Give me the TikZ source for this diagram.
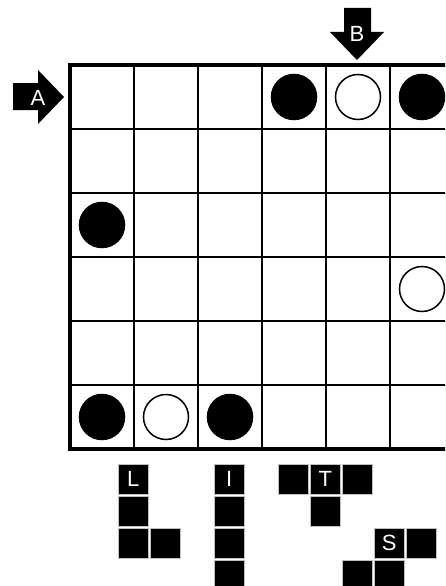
\documentclass[tikz,border=0pt]{standalone}
\usepackage{fontspec}
\setmainfont{Liberation Sans}
\begin{document}
\begin{tikzpicture}[
    x=1pt, y=-1pt,
    gridline/.style={line width=1.5pt},
    boardedge/.style={line width=4pt, line cap=rect},
    stone/.style={circle, draw, line width=1.5pt, minimum size=45pt, inner sep=0pt},
    blackstone/.style={stone, fill=black},
    whitestone/.style={stone, fill=white},
    tile/.style={draw=gray!50, line width=0.6pt, fill=black, minimum size=30pt, inner sep=0pt, anchor=north west, text=white, font=\fontsize{22}{22}\selectfont},
    arrowtext/.style={text=white, inner sep=0pt, font=\fontsize{22}{22}\selectfont}
  ]
    \useasboundingbox (0,0) rectangle (445,586);
    \clip (0,0) rectangle (445,586);
    % board
    \foreach \i in {1,...,6}
      \draw[gridline] (70+64*\i,65) -- (70+64*\i,449);
    \foreach \j in {1,...,5}
      \draw[gridline] (70,65+64*\j) -- (520,65+64*\j);
    \draw[boardedge] (520,65) -- (70,65) -- (70,449) -- (520,449);
    % entry arrows
    \fill (13,83) -- (38,83) -- (38,70) -- (64,97) -- (38,124) -- (38,110) -- (13,110) -- cycle;
    \node[arrowtext] (arrowA) at (38,98) {A};
    \fill (344,8) -- (371,8) -- (371,32) -- (384,32) -- (357,60) -- (330,32) -- (344,32) -- cycle;
    \node[arrowtext] (arrowB) at (357,34) {B};
    % stones
    \node[blackstone] (s14) at (294,97) {};
    \node[whitestone] (s15) at (358,97) {};
    \node[blackstone] (s16) at (422,97) {};
    \node[blackstone] (s31) at (102,225) {};
    \node[whitestone] (s46) at (422,289) {};
    \node[blackstone] (s61) at (102,417) {};
    \node[whitestone] (s62) at (166,417) {};
    \node[blackstone] (s63) at (230,417) {};
    % pieces
    \node[tile] (L1) at (118,464) {L};
    \node[tile] (L2) at (118,496) {};
    \node[tile] (L3) at (118,528) {};
    \node[tile] (L4) at (150,528) {};
    \node[tile] (I1) at (214,464) {I};
    \node[tile] (I2) at (214,496) {};
    \node[tile] (I3) at (214,528) {};
    \node[tile] (I4) at (214,560) {};
    \node[tile] (T1) at (278,464) {};
    \node[tile] (T2) at (310,464) {T};
    \node[tile] (T3) at (342,464) {};
    \node[tile] (T4) at (310,496) {};
    \node[tile] (S1) at (374,528) {S};
    \node[tile] (S2) at (406,528) {};
    \node[tile] (S3) at (342,560) {};
    \node[tile] (S4) at (374,560) {};
  \end{tikzpicture}
\end{document}
